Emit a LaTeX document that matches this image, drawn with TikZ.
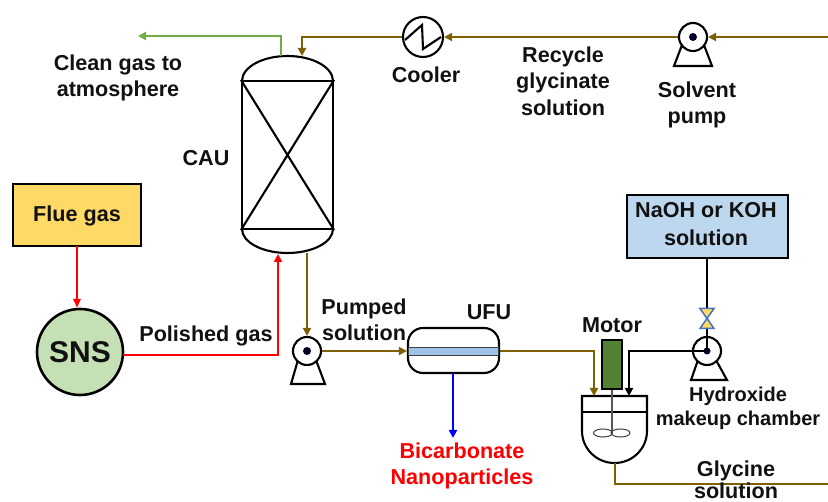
\documentclass[tikz,border=0pt]{standalone}
\usepackage{fontspec}
\setmainfont{Liberation Sans}
\usetikzlibrary{arrows.meta,calc}
\definecolor{brn}{HTML}{7F6000}
\definecolor{grn}{HTML}{70AD47}
\definecolor{ylw}{HTML}{FFD966}
\definecolor{sns}{HTML}{C5E0B4}
\definecolor{mot}{HTML}{548235}
\definecolor{bnd}{HTML}{9DC3E6}
\definecolor{bbox}{HTML}{BDD7EE}
\definecolor{vlv}{HTML}{4472C4}
\definecolor{txt}{HTML}{111111}
\tikzset{
 x=1pt,y=-1pt,
 lbl/.style={font=\fontsize{21.6}{26.5}\selectfont\bfseries,text=txt,align=center,inner sep=0pt},
 eq/.style={draw=black,line width=2.1pt},
 pumpc/.style={circle,draw=black,line width=2.1pt,fill=white,minimum size=28pt,inner sep=0pt},
 pumpb/.style={draw=black,line width=2.1pt,fill=white,line join=miter},
 eye/.style={circle,fill=black!85!blue,minimum size=8pt,inner sep=0pt},
 pipe/.style={line width=2.6pt,line join=miter},
 tip/.style={-{Triangle[length=8pt,width=8pt]}},
 smalltip/.style={-{Triangle[length=9pt,width=7pt]}}
}
\begin{document}
\begin{tikzpicture}
\useasboundingbox (0,0) rectangle (828,502);
% named points
\coordinate (eR) at (828,37);
\coordinate (eG) at (828,484);
\coordinate (gEnd) at (138,36);
\coordinate (nEnd) at (453,438);
% CAU
\draw[eq,fill=white] (242,81) arc[start angle=180,end angle=360,x radius=45.5,y radius=25];
\draw[eq,fill=white] (242,229) arc[start angle=180,end angle=0,x radius=45.5,y radius=24];
\node[eq,minimum width=91pt,minimum height=148pt,inner sep=0pt] (cau) at (287.5,155) {};
\draw[eq] (cau.north west)--(cau.south east) (cau.north east)--(cau.south west);
\coordinate (cauG) at (281,56);
\coordinate (cauIn) at (302,56);
\coordinate (cauRed) at (278,254);
\coordinate (cauOut) at (307,253);
% cooler
\node[circle,eq,minimum size=40pt,inner sep=0pt] (cool) at (423,37) {};
\draw[eq,line join=miter] (405,40)--(422,25)--(423,49)--(441,37);
% pumps
\draw[pumpb] (674,66)--(682,45)--(704,45)--(712,66)--cycle;
\node[pumpc] (p1) at (693,37) {}; \node[eye] at (p1) {};
\draw[pumpb] (291,384)--(298,360)--(316,360)--(325,384)--cycle;
\node[pumpc] (p2) at (307,351) {}; \node[eye] at (p2) {};
\draw[pumpb] (691,380)--(698,360)--(716,360)--(727,380)--cycle;
\node[pumpc] (p3) at (707,351) {};
% Flue, SNS
\node[draw=black,line width=2pt,fill=ylw,minimum width=128pt,minimum height=62pt,inner sep=0pt] (flue) at (77,215) {};
\node[lbl] at (77,216) {Flue gas};
\node[circle,draw=black,line width=2.6pt,fill=sns,minimum size=86pt,inner sep=0pt,font=\fontsize{30}{30}\selectfont\bfseries,text=txt] (sns) at (80,352) {SNS};
% NaOH box
\node[draw=black,line width=2pt,fill=bbox,minimum width=161pt,minimum height=63pt,inner sep=0pt] (naoh) at (707.5,226.5) {};
\node[lbl] at (706,224) {NaOH or KOH\\[2pt]solution};
% UFU
\node[draw=black,line width=2.1pt,rounded corners=15pt,fill=white,minimum width=91pt,minimum height=45pt,inner sep=0pt] (ufu) at (453.5,350.5) {};
\node[draw=black!75,line width=1pt,fill=bnd,minimum width=90pt,minimum height=7.5pt,inner sep=0pt] at (453.5,351.5) {};
% Motor
\node[draw=black,line width=2pt,fill=mot,minimum width=20pt,minimum height=49pt,inner sep=0pt] (motor) at (612,364.5) {};
% vessel
\coordinate (vTL) at (582,396);
\coordinate (vTR) at (647,396);
\draw[eq,fill=white] (vTL)--(vTR)--(647,431) arc[start angle=0,end angle=180,x radius=32.5,y radius=32]--cycle;
\draw[eq] (582,412)--(647,412);
\coordinate (vIn1) at (594,396);
\coordinate (vIn2) at (629,396);
\coordinate (vOut) at (615,463);
\coordinate (imp) at (612,433);
\draw[draw=black!65,line width=1.1pt] (motor.south)--(imp);
\draw[draw=black!75,line width=1pt] (603,433) ellipse[x radius=9.5,y radius=4];
\draw[draw=black!75,line width=1pt] (620.5,433) ellipse[x radius=9.5,y radius=4];
% pipes
\draw[pipe,grn,tip] (cauG)--(281,36)--(gEnd);
\draw[pipe,brn,tip] (eR)--(p1.east);
\draw[pipe,brn,tip] (p1.west)--(cool.east);
\draw[pipe,brn,tip] (cool.west)--(302,37)--(cauIn);
\draw[pipe,red,smalltip] (77,246)--(77,308);
\draw[pipe,red,tip] (sns.east |- 0,355) ++(-1,0)--(278,355)--(cauRed);
\draw[pipe,brn,tip] (cauOut)--(p2.north);
\draw[pipe,brn,tip] (p2.east)--(ufu.west |- p2);
\draw[pipe,blue,tip] (453,373)--(nEnd);
\draw[pipe,brn,tip] (ufu.east |- p2)--(594,351)--(vIn1);
\draw[pipe,brn] (vOut)--(615,484)--(eG);
\draw[pipe,black,tip] (p3.center)--(629,351)--(vIn2);
% hydroxide feed
\coordinate (vc) at (707,318.5);
\draw[pipe,black] (naoh.south -| vc)--(p3.center);
\draw[line width=1.5pt,draw=vlv,fill=ylw,line join=miter] (700,308.5)--(714,308.5)--(700,328.5)--(714,328.5)--cycle;
\node[eye,minimum size=7pt] at (p3) {};
% labels
\node[lbl] at (118,78) {Clean gas to\\atmosphere};
\node[lbl] at (206,158) {CAU};
\node[lbl] at (426,75) {Cooler};
\node[lbl] at (563,81) {Recycle\\glycinate\\solution};
\node[lbl] at (697,105) {Solvent\\pump};
\node[lbl] at (206,336) {Polished gas};
\node[lbl] at (364,320) {Pumped\\solution};
\node[lbl] at (489,312) {UFU};
\node[lbl] at (612,325) {Motor};
\node[lbl,text=red] at (462,466) {Bicarbonate\\Nanoparticles};
\node[lbl,font=\fontsize{20}{24}\selectfont\bfseries] at (738,408) {Hydroxide\\makeup chamber};
\node[lbl] at (736,480) {Glycine\\[-4pt]solution};
\end{tikzpicture}
\end{document}
